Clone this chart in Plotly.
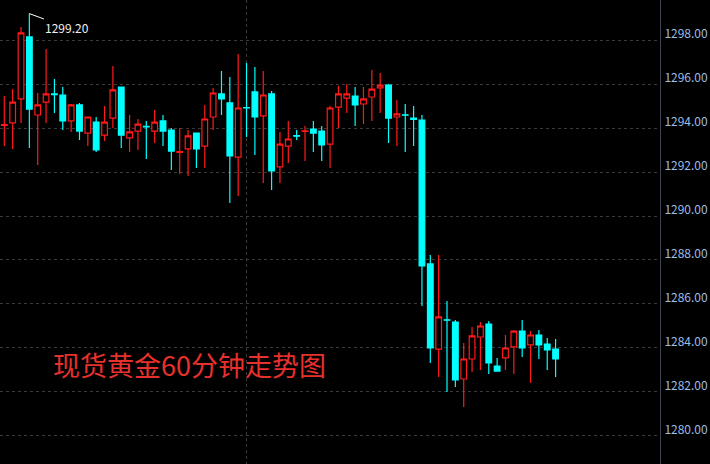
import plotly.graph_objects as go

# 60-minute spot gold candles (open, high, low, close)
opens = [1294.12, 1294.23, 1295.32, 1298.14, 1294.59, 1295.18, 1295.55, 1295.50, 1294.32, 1295.05,
         1293.77, 1294.27, 1293.68, 1294.45, 1295.86, 1293.55, 1293.86, 1294.07, 1293.86, 1294.32,
         1293.91, 1292.89, 1293.05, 1293.77, 1293.18, 1294.50, 1295.55, 1295.14, 1292.68, 1294.93,
         1295.64, 1294.55, 1295.55, 1292.23, 1293.18, 1293.65, 1293.84, 1293.95, 1293.86, 1293.27,
         1294.95, 1295.36, 1295.45, 1295.09, 1295.41, 1295.82, 1295.95, 1294.50, 1294.60, 1294.45,
         1294.36, 1287.82, 1283.95, 1285.28, 1285.18, 1282.59, 1283.50, 1284.50, 1285.09, 1283.18,
         1283.55, 1284.05, 1284.77, 1284.14, 1284.59, 1284.18, 1283.95]
highs = [1295.45, 1295.77, 1298.59, 1299.20, 1295.59, 1297.59, 1296.23, 1295.86, 1295.09, 1295.14,
         1294.50, 1294.50, 1295.00, 1296.82, 1295.86, 1294.59, 1294.41, 1294.32, 1294.82, 1294.59,
         1294.00, 1294.00, 1293.91, 1293.77, 1295.05, 1295.82, 1296.59, 1296.32, 1297.36, 1296.95,
         1296.77, 1296.59, 1295.68, 1293.82, 1294.32, 1293.91, 1294.09, 1294.32, 1294.09, 1295.00,
         1295.91, 1296.00, 1295.86, 1295.86, 1296.64, 1296.50, 1296.00, 1295.27, 1295.09, 1295.00,
         1294.59, 1288.23, 1288.23, 1286.14, 1285.27, 1284.23, 1284.95, 1285.18, 1285.23, 1283.55,
         1284.59, 1284.82, 1285.27, 1284.77, 1284.82, 1284.45, 1284.41]
lows = [1293.18, 1293.05, 1294.23, 1293.09, 1292.32, 1294.23, 1294.68, 1293.91, 1293.82, 1293.45,
        1293.18, 1292.91, 1293.41, 1294.00, 1293.09, 1292.91, 1293.00, 1292.59, 1293.32, 1293.18,
        1292.09, 1291.91, 1291.82, 1292.18, 1292.18, 1293.91, 1294.59, 1290.59, 1290.91, 1293.59,
        1292.77, 1291.50, 1291.18, 1291.50, 1292.41, 1293.45, 1292.50, 1292.91, 1292.50, 1292.18,
        1294.00, 1294.68, 1294.09, 1294.18, 1294.32, 1294.68, 1293.32, 1293.18, 1292.91, 1293.18,
        1285.91, 1283.32, 1282.68, 1282.00, 1282.23, 1281.32, 1282.91, 1283.00, 1282.82, 1282.95,
        1283.00, 1282.82, 1283.59, 1282.41, 1283.50, 1283.00, 1282.68]
closes = [1294.16, 1295.18, 1298.32, 1294.86, 1295.05, 1295.55, 1295.52, 1294.32, 1295.05, 1293.86,
          1294.50, 1293.00, 1294.27, 1295.73, 1293.68, 1293.82, 1294.18, 1294.05, 1294.27, 1293.86,
          1292.95, 1292.93, 1293.64, 1293.05, 1294.41, 1295.59, 1295.32, 1292.73, 1294.91, 1294.91,
          1294.50, 1295.50, 1292.05, 1293.27, 1293.50, 1293.63, 1293.87, 1293.77, 1293.23, 1294.91,
          1295.55, 1295.55, 1295.05, 1295.32, 1295.77, 1295.95, 1294.45, 1294.64, 1294.58, 1294.39,
          1287.73, 1284.00, 1285.41, 1285.26, 1282.55, 1283.50, 1284.55, 1285.00, 1283.32, 1282.95,
          1284.00, 1284.77, 1284.00, 1284.59, 1284.14, 1283.91, 1283.50]
bars = list(range(len(opens)))

y_ticks = [1280, 1282, 1284, 1286, 1288, 1290, 1292, 1294, 1296, 1298]
session_break = [29]
peak_index = 3
peak_value = 1299.20
title_text = "现货黄金60分钟走势图"

RED = "#ff1a1a"
CYAN = "#00ffff"

fig = go.Figure()
fig.add_trace(go.Candlestick(
    x=bars, open=opens, high=highs, low=lows, close=closes,
    increasing=dict(line=dict(color=RED, width=1.2), fillcolor="#000000"),
    decreasing=dict(line=dict(color=CYAN, width=1.2), fillcolor=CYAN),
    whiskerwidth=0, hoverinfo="skip", showlegend=False,
))

fig.add_annotation(
    x=peak_index, y=peak_value, text=f"{peak_value:.2f}",
    showarrow=True, arrowhead=0, arrowwidth=1, arrowcolor="#ffffff",
    ax=38, ay=14, standoff=0,
    font=dict(family="Noto Sans CJK SC", size=12, color="#f0f0f0"),
)
fig.add_annotation(
    xref="paper", yref="paper", x=0.077, y=0.2134,
    xanchor="left", yanchor="middle", showarrow=False,
    text=title_text,
    font=dict(family="Noto Sans CJK SC", size=27, color="#e8302c"),
)

fig.update_layout(
    width=710, height=464,
    margin=dict(l=0, r=50, t=0, b=0),
    paper_bgcolor="#000000", plot_bgcolor="#000000",
    boxgap=0.32, boxgroupgap=0,
    xaxis=dict(
        range=[-0.515, 78.5], rangeslider=dict(visible=False),
        tickvals=session_break, showticklabels=False, ticks="",
        showgrid=True, gridcolor="#3a3a3a", griddash="dot", gridwidth=1,
        zeroline=False, showline=False, fixedrange=True,
    ),
    yaxis=dict(
        side="right", range=[1278.727, 1299.818],
        tickvals=y_ticks, tickformat=".2f", ticks="",
        showgrid=True, gridcolor="#3a3a3a", griddash="dot", gridwidth=1,
        showline=True, linecolor="#3e4452", linewidth=1,
        zeroline=False, ticklabelshift=-6, ticklabelstandoff=1,
        tickfont=dict(family="Noto Sans CJK SC", size=12, color="#9dbde6"),
    ),
)

fig.write_html(
    "out.html",
    config={"displayModeBar": False, "staticPlot": True},
    post_script="document.body.style.margin='0';document.body.style.background='#000';",
)
